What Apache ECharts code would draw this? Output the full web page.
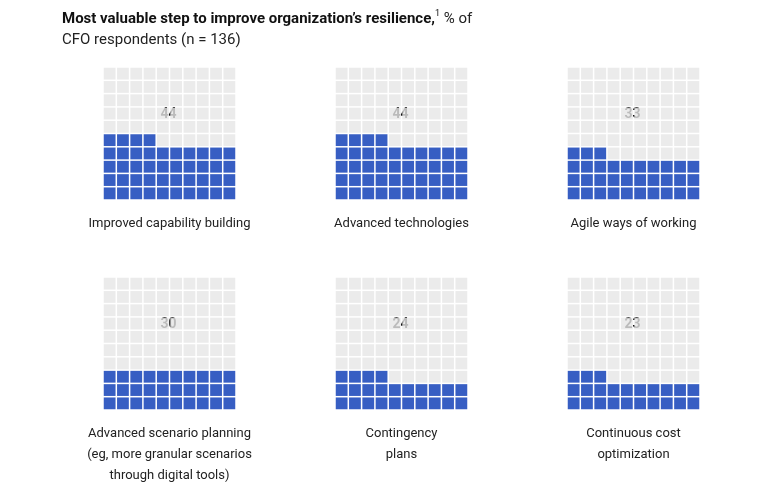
<!DOCTYPE html>
<html>
<head>
<meta charset="utf-8">
<script src="https://cdn.jsdelivr.net/npm/echarts@6/dist/echarts.min.js"></script>
<style>html,body{margin:0;padding:0;background:#fff}#main{width:765px;height:484px}</style>
</head>
<body>
<div id="main"></div>
<script>
var labels = ['Improved capability building', 'Advanced technologies', 'Agile ways of working',
  'Advanced scenario planning\n(eg, more granular scenarios\nthrough digital tools)', 'Contingency\nplans', 'Continuous cost\noptimization'];
var values = [44, 44, 33, 30, 24, 23];
var cols = [10, 10, 10, 10, 10, 10, 10, 10, 10, 10];

var myChart = echarts.init(document.getElementById('main'));
var lefts = [103, 335, 567], tops = [67, 277], size = 133;
var font = 'Roboto, "Liberation Sans", sans-serif';

var grids = [], xAxes = [], yAxes = [], series = [], graphics = [];
values.forEach(function (v, k) {
  var left = lefts[k % 3], top = tops[Math.floor(k / 3)];
  grids.push({left: left, top: top, width: size, height: size});
  xAxes.push({type: 'value', gridIndex: k, min: -0.5, max: 9.5, show: false});
  yAxes.push({type: 'value', gridIndex: k, min: -0.5, max: 9.5, show: false});
  var data = [];
  for (var i = 0; i < 100; i++) {
    data.push({value: [i % 10, Math.floor(i / 10)],
      itemStyle: {color: i < v ? '#0536b4' : '#e6e6e6'}});
  }
  series.push({type: 'scatter', xAxisIndex: k, yAxisIndex: k, symbol: 'rect',
    symbolSize: 11.8, data: data, silent: true, animation: false});
  graphics.push({type: 'text', left: left + size / 2 - 9, top: top + 40,
    style: {text: String(v), font: 'bold 14px ' + font, fill: '#111'}});
  graphics.push({type: 'text', x: left + size / 2, y: top + 146,
    style: {text: labels[k], font: '13px ' + font, fill: '#222', align: 'center', lineHeight: 21}});
});

graphics.push({type: 'text', left: 62, top: 9, style: {
  rich: {
    b: {font: 'bold 15px ' + font, fill: '#111'},
    s: {font: '9px ' + font, fill: '#111', verticalAlign: 'top', padding: [0, 0, 8, 0]},
    r: {font: '15px ' + font, fill: '#222'}
  },
  text: '{b|Most valuable step to improve organization\u2019s resilience,}{s|1}{r| % of}\n{r|CFO respondents (n = 136)}',
  lineHeight: 21
}});

var option = {
  grid: grids, xAxis: xAxes, yAxis: yAxes, series: series, graphic: graphics
};
myChart.setOption(option);
</script>
</body>
</html>
